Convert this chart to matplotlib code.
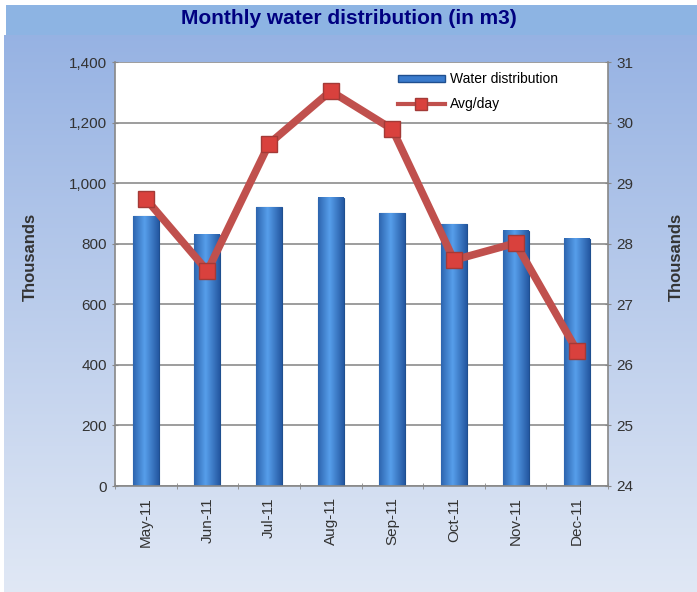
import matplotlib
matplotlib.use('Agg')
import matplotlib.pyplot as plt
import numpy as np
from matplotlib.patches import Rectangle
from matplotlib.lines import Line2D

months = ['May-11', 'Jun-11', 'Jul-11', 'Aug-11', 'Sep-11', 'Oct-11', 'Nov-11', 'Dec-11']
water = [891, 829, 921, 951, 901, 865, 842, 816]
avg_day = [28.74, 27.55, 29.65, 30.52, 29.89, 27.73, 28.01, 26.23]
left_ticks = [0, 200, 400, 600, 800, 1000, 1200, 1400]
right_ticks = [24, 25, 26, 27, 28, 29, 30, 31]

plt.rcParams['font.family'] = ['Liberation Sans', 'DejaVu Sans']

W, H = 697, 592
fig = plt.figure(figsize=(W / 100, H / 100), dpi=100)

# background gradient
bg = fig.add_axes([4 / W, 0, 1 - 4 / W, 1 - 35 / H])
bg.set_axis_off()
top = np.array([0.59, 0.70, 0.89])
bot = np.array([0.88, 0.91, 0.96])
t = np.linspace(0, 1, 256)[:, None]
grad = top * (1 - t) + bot * t
bg.imshow(grad[:, None, :], aspect='auto', extent=[0, 1, 0, 1])

# title band
band = fig.add_axes([6 / W, 1 - 35 / H, 1 - 6 / W, 30 / H])
band.set_axis_off()
band.add_patch(Rectangle((0, 0), 1, 1, color='#8db4e3', transform=band.transAxes))
fig.text(0.5, 1 - 19 / H, 'Monthly water distribution (in m3)', ha='center', va='center',
         fontsize=15, fontweight='bold', color='#000080')

ax = fig.add_axes([115 / W, 1 - 486 / H, (608 - 115) / W, (486 - 62) / H])
ax.set_facecolor('white')
x = np.arange(len(months))
bw = 0.42
bars = ax.bar(x, water, width=bw, color='#3a7bcc', edgecolor='#1f4f8f', linewidth=0.8, zorder=2)

# horizontal shading on each bar
u = np.linspace(0, 1, 64)
shade = 1 - np.abs(u - 0.45) * 2
dark = np.array([0.16, 0.37, 0.66])
light = np.array([0.34, 0.62, 0.92])
bar_img = dark * (1 - shade[:, None]) + light * shade[:, None]
for b in bars:
    x0, h = b.get_x(), b.get_height()
    ax.imshow(bar_img[None, :, :], aspect='auto', extent=[x0, x0 + bw, 0, h], zorder=2.1)

ax.set_xlim(-0.5, len(months) - 0.5)
ax.set_ylim(0, 1400)
ax.set_yticks(left_ticks)
ax.set_yticklabels(['{:,}'.format(v) for v in left_ticks])
ax.set_xticks(x)
ax.set_xticklabels(months, rotation=90)
ax.set_xticks(np.arange(-0.5, len(months)), minor=True)
ax.tick_params(axis='x', which='major', length=0, pad=8)
ax.tick_params(axis='x', which='minor', length=5, color='#888888', direction='inout')
ax.tick_params(axis='y', length=5, color='#888888', direction='inout')
ax.tick_params(labelsize=11, labelcolor='#333333')
ax.grid(axis='y', color='#8c8c8c', linewidth=1.2, zorder=0)
for s in ['top', 'right']:
    ax.spines[s].set_visible(False)
for s in ['left', 'bottom']:
    ax.spines[s].set_color('#888888')
    ax.spines[s].set_linewidth(1.2)
ax.set_ylabel('Thousands', fontsize=12, fontweight='bold', color='#333333')
ax.yaxis.set_label_coords(-0.156, 0.54)

ax2 = ax.twinx()
ax2.plot(x, avg_day, color='#c0504d', linewidth=5.5, marker='s', markersize=11,
         markerfacecolor='#d9413d', markeredgecolor='#a33a37', zorder=3)
ax2.set_ylim(24, 31)
ax2.set_yticks(right_ticks)
ax2.tick_params(axis='y', length=5, color='#888888', direction='inout', labelsize=11,
                labelcolor='#333333')
for s in ['top', 'left', 'bottom']:
    ax2.spines[s].set_visible(False)
ax2.spines['right'].set_color('#888888')
ax2.spines['right'].set_linewidth(1.2)
ax2.set_ylabel('Thousands', fontsize=12, fontweight='bold', color='#333333')
ax2.yaxis.set_label_coords(1.124, 0.54)

handles = [Rectangle((0, 0), 1, 0.35, facecolor='#3a7bcc', edgecolor='#1f4f8f'),
           Line2D([], [], color='#c0504d', linewidth=3, marker='s', markersize=8,
                  markerfacecolor='#d9413d', markeredgecolor='#a33a37')]
ax2.legend(handles, ['Water distribution', 'Avg/day'], loc='upper left',
           bbox_to_anchor=(0.548, 1.005), frameon=False, fontsize=10, handlelength=3.4,
           handleheight=0.4, handletextpad=0.35, labelspacing=0.75)

fig.savefig('out.png', dpi=100)
